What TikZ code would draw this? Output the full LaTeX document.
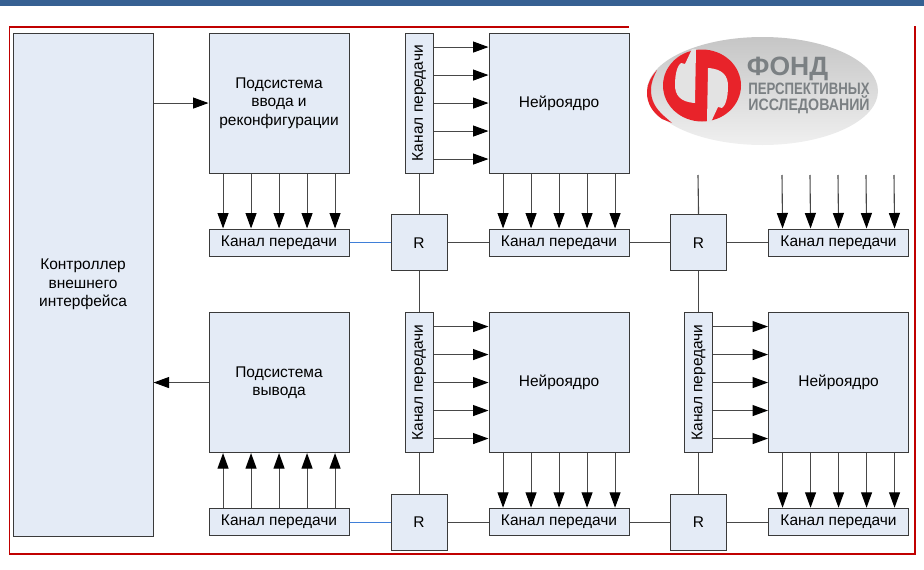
\documentclass[tikz,border=0pt]{standalone}
\usepackage{fontspec}
\setmainfont{Liberation Sans}
\usetikzlibrary{arrows.meta}
\definecolor{boxfill}{HTML}{E4EBF6}
\definecolor{boxline}{HTML}{3A3A3A}
\definecolor{wire}{HTML}{484848}
\definecolor{barblue}{HTML}{366092}
\definecolor{framered}{HTML}{C00000}
\definecolor{linkblue}{HTML}{3F7FD8}
\definecolor{logored}{HTML}{E8232A}
\definecolor{logotext}{HTML}{7B8083}
\tikzset{
  x=1pt,y=-1pt,
  block/.style={draw=boxline,fill=boxfill,line width=1.1pt,inner sep=0pt,font=\fontsize{15.5}{18.5}\selectfont,align=center,anchor=north west},
  big/.style={block,minimum width=140pt,minimum height=140pt},
  chan/.style={block,minimum width=140pt,minimum height=27.5pt},
  vchan/.style={block,minimum width=28pt,minimum height=140pt},
  router/.style={block,minimum width=56pt,minimum height=56pt},
  wirel/.style={draw=wire,line width=1.1pt},
  bluel/.style={draw=linkblue,line width=1.1pt},
  arrowl/.style={wirel,-{Triangle[length=15.5pt,width=11pt,color=black]}},
  logotxt/.style={text=logotext,inner sep=0pt}
}
\begin{document}
\begin{tikzpicture}
\useasboundingbox (0,0) rectangle (924,570);
\fill[barblue] (0,0) rectangle (924,6);
% red frame
\draw[framered,line width=1.5pt] (628.5,27) -- (9.5,27) -- (9.5,554) -- (915,554) -- (915,26);
% logo
\shade[top color=gray!45,bottom color=gray!12] (762.5,91) ellipse [x radius=115.5, y radius=54];
\node[logotxt,font=\bfseries\fontsize{26.5}{26.5}\selectfont] (l1) at (787.5,68.5) {ФОНД};
\node[logotxt,font=\bfseries\fontsize{16.5}{16.5}\selectfont] (l2) at (809,89) {\scalebox{.8}[1]{ПЕРСПЕКТИВНЫХ}};
\node[logotxt,font=\bfseries\fontsize{16.5}{16.5}\selectfont] (l3) at (809,105) {\scalebox{.86}[1]{ИССЛЕДОВАНИЙ}};
% emblem: ring with two counters
\fill[logored] (702,85.5) ellipse [x radius=39, y radius=36];
\fill[gray!22] (692,49) -- (696,49) -- (695,103) .. controls (680,102) and (675,95) .. (675,85)
  .. controls (675,72) and (678,65) .. (681,63) -- (685,64) -- cycle;
\fill[gray!22] (711,122) -- (707,122) -- (708,68) .. controls (723,69) and (728,76) .. (728,86)
  .. controls (728,99) and (725,106) .. (722,108) -- (718,107) -- cycle;
\fill[logored] (657,70) .. controls (650,78) and (647,85) .. (647,93)
  .. controls (647,103) and (652,112) .. (662,119) -- (672,123) -- (664,116)
  .. controls (655,108) and (651,100) .. (651,90) .. controls (651,82) and (654,76) .. (657,70) -- cycle;
% blocks
\node[block,minimum width=140pt,minimum height=503pt] (ctrl) at (12.5,32.5) {Контроллер\\внешнего\\интерфейса};
\node[big] (input) at (208.5,32.5) {Подсистема\\ввода и\\реконфигурации};
\node[big] (output) at (208.5,312) {Подсистема\\вывода};
\node[vchan] (v1) at (404.5,32.5) {\rotatebox{90}{Канал передачи}};
\node[vchan] (v2) at (404.5,312) {\rotatebox{90}{Канал передачи}};
\node[vchan] (v3) at (684,312) {\rotatebox{90}{Канал передачи}};
\node[big] (core1) at (488.5,32.5) {Нейроядро};
\node[big] (core2) at (488.5,312) {Нейроядро};
\node[big] (core3) at (768,312) {Нейроядро};
\node[chan] (c11) at (208.5,228.5) {Канал передачи};
\node[chan] (c12) at (488.5,228.5) {Канал передачи};
\node[chan] (c13) at (768,228.5) {Канал передачи};
\node[chan] (c21) at (208.5,507.75) {Канал передачи};
\node[chan] (c22) at (488.5,507.75) {Канал передачи};
\node[chan] (c23) at (768,507.75) {Канал передачи};
\node[router] (r11) at (390.5,214.25) {R};
\node[router] (r12) at (670,214.25) {R};
\node[router] (r21) at (390.5,493.5) {R};
\node[router] (r22) at (670,493.5) {R};
% free ends above the right column
\coordinate (top2) at (698,175);
\foreach \d in {-56,-28,0,28,56} \coordinate (t\d) at (838+\d,175);
% controller links
\draw[arrowl] (ctrl.east |- input.center) -- (input.west);
\draw[arrowl] (output.west) -- (ctrl.east |- output.center);
% five-wire arrows
\foreach \d in {-56,-28,0,28,56} {
  \draw[arrowl] ([xshift=\d pt]input.south) -- ([xshift=\d pt]c11.north);
  \draw[arrowl] ([xshift=\d pt]core1.south) -- ([xshift=\d pt]c12.north);
  \draw[arrowl] (t\d) -- ([xshift=\d pt]c13.north);
  \draw[arrowl] ([xshift=\d pt]c21.north) -- ([xshift=\d pt]output.south);
  \draw[arrowl] ([xshift=\d pt]core2.south) -- ([xshift=\d pt]c22.north);
  \draw[arrowl] ([xshift=\d pt]core3.south) -- ([xshift=\d pt]c23.north);
  \draw[arrowl] ([yshift=\d pt]v1.east) -- ([yshift=\d pt]core1.west);
  \draw[arrowl] ([yshift=\d pt]v2.east) -- ([yshift=\d pt]core2.west);
  \draw[arrowl] ([yshift=\d pt]v3.east) -- ([yshift=\d pt]core3.west);
}
% router links
\draw[bluel] (c11.east) -- (r11.west);
\draw[bluel] (c21.east) -- (r21.west);
\draw[wirel] (r11.east) -- (c12.west);
\draw[wirel] (c12.east) -- (r12.west);
\draw[wirel] (r12.east) -- (c13.west);
\draw[wirel] (r21.east) -- (c22.west);
\draw[wirel] (c22.east) -- (r22.west);
\draw[wirel] (r22.east) -- (c23.west);
\draw[wirel] (v1.south) -- (r11.north);
\draw[wirel] (r11.south) -- (v2.north);
\draw[wirel] (v2.south) -- (r21.north);
\draw[wirel] (top2) -- (r12.north);
\draw[wirel] (r12.south) -- (v3.north);
\draw[wirel] (v3.south) -- (r22.north);
\end{tikzpicture}
\end{document}
